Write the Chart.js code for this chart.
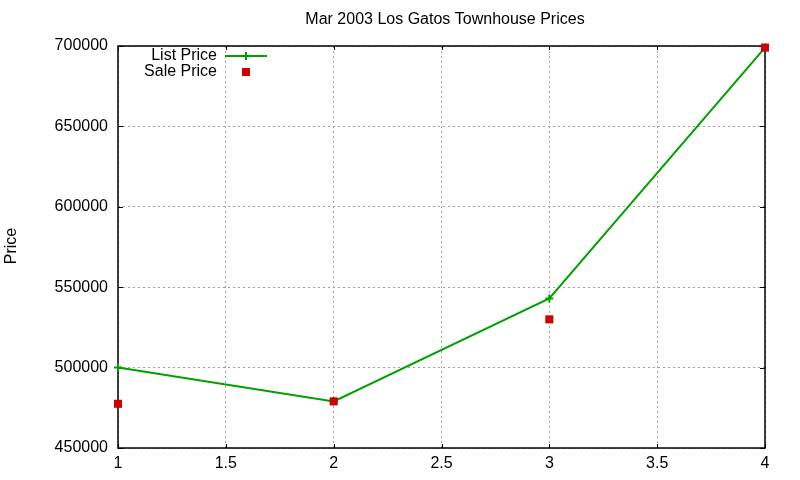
<!DOCTYPE html>
<html>
<head>
<meta charset="utf-8">
<script src="https://cdn.jsdelivr.net/npm/chart.js@4"></script>
<style>
html,body{margin:0;padding:0;background:#fff;}
#wrap{width:800px;height:480px;}
</style>
</head>
<body>
<div id="wrap"><canvas id="c" width="800" height="480"></canvas></div>
<script>
const titleText = "Mar 2003 Los Gatos Townhouse Prices";
const yTitle = "Price";
const seriesNames = ["List Price", "Sale Price"];
const xValues = [1, 2, 3, 4];
const listPrice = [500000, 479000, 543000, 699000];
const salePrice = [477500, 479000, 530000, 699000];
const xTickValues = [1, 1.5, 2, 2.5, 3, 3.5, 4];
const yTickValues = [450000, 500000, 550000, 600000, 650000, 700000];

const GREEN = "#00a000";
const RED = "#cc0000";
const FONT = "'Liberation Sans', Arial, sans-serif";

const decor = {
  id: "decor",
  beforeDatasetsDraw(chart) {
    const ctx = chart.ctx, a = chart.chartArea;
    const xs = chart.scales.x, ys = chart.scales.y;
    ctx.save();
    ctx.strokeStyle = "#000";
    ctx.lineWidth = 1;
    ctx.beginPath();
    xTickValues.forEach(v => {
      const px = Math.round(xs.getPixelForValue(v)) + 0.5;
      ctx.moveTo(px, a.bottom); ctx.lineTo(px, a.bottom - 4);
      ctx.moveTo(px, a.top); ctx.lineTo(px, a.top + 4);
    });
    yTickValues.forEach(v => {
      const py = Math.round(ys.getPixelForValue(v)) + 0.5;
      ctx.moveTo(a.left, py); ctx.lineTo(a.left + 5, py);
      ctx.moveTo(a.right, py); ctx.lineTo(a.right - 5, py);
    });
    ctx.stroke();
    ctx.lineWidth = 1.5;
    ctx.strokeRect(a.left, a.top, a.right - a.left, a.bottom - a.top);
    ctx.restore();
  },
  afterDraw(chart) {
    const ctx = chart.ctx, a = chart.chartArea;
    ctx.save();
    ctx.fillStyle = "#000";
    ctx.font = "16px " + FONT;
    ctx.textAlign = "center";
    ctx.textBaseline = "middle";
    ctx.fillText(titleText, 445, 20);
    ctx.save();
    ctx.translate(12, 246);
    ctx.rotate(-Math.PI / 2);
    ctx.fillText(yTitle, 0, 0);
    ctx.restore();
    // legend
    ctx.textAlign = "right";
    ctx.fillText(seriesNames[0], 217, 56);
    ctx.fillText(seriesNames[1], 217, 72);
    ctx.strokeStyle = GREEN;
    ctx.lineWidth = 2;
    ctx.beginPath();
    ctx.moveTo(225, 56); ctx.lineTo(267, 56);
    ctx.moveTo(246, 52); ctx.lineTo(246, 60);
    ctx.stroke();
    ctx.fillStyle = RED;
    ctx.fillRect(242, 68, 8, 8);
    ctx.restore();
  }
};

new Chart(document.getElementById("c"), {
  type: "line",
  data: {
    datasets: [
      {
        label: seriesNames[0],
        data: xValues.map((x, i) => ({x: x, y: listPrice[i]})),
        borderColor: GREEN,
        backgroundColor: GREEN,
        borderWidth: 2,
        pointStyle: "cross",
        pointRadius: 4,
        pointBorderWidth: 2,
        pointBorderColor: GREEN,
        tension: 0,
        fill: false,
        clip: false,
        order: 2
      },
      {
        label: seriesNames[1],
        data: xValues.map((x, i) => ({x: x, y: salePrice[i]})),
        showLine: false,
        borderColor: RED,
        backgroundColor: RED,
        pointStyle: "rect",
        pointRadius: 5.7,
        pointBorderWidth: 0,
        clip: false,
        order: 1
      }
    ]
  },
  options: {
    responsive: false,
    animation: false,
    devicePixelRatio: 1,
    layout: {padding: {top: 46, right: 35, left: 0, bottom: 0}},
    plugins: {legend: {display: false}, title: {display: false}, tooltip: {enabled: false}},
    scales: {
      x: {
        type: "linear",
        min: 1, max: 4,
        afterBuildTicks(scale) { scale.ticks = xTickValues.map(v => ({value: v})); },
        afterFit(scale) { scale.height = 32; },
        grid: {color: "#a0a0a0", lineWidth: 1, drawTicks: false},
        border: {display: false, dash: [2, 3]},
        ticks: {color: "#000", padding: 6, font: {family: FONT, size: 16}, maxRotation: 0,
                callback: v => String(v)}
      },
      y: {
        type: "linear",
        min: 450000, max: 700000,
        afterBuildTicks(scale) { scale.ticks = yTickValues.map(v => ({value: v})); },
        afterFit(scale) { scale.width = 118; },
        grid: {color: "#a0a0a0", lineWidth: 1, drawTicks: false},
        border: {display: false, dash: [2, 3]},
        ticks: {color: "#000", padding: 10, font: {family: FONT, size: 16},
                callback: v => String(v)}
      }
    }
  },
  plugins: [decor]
});
</script>
</body>
</html>
